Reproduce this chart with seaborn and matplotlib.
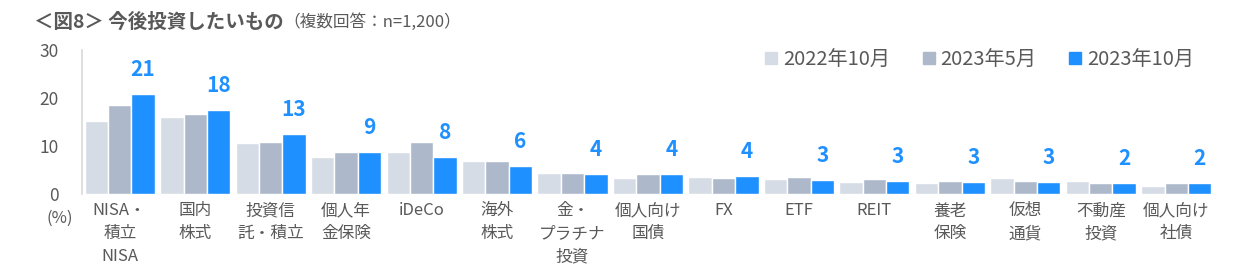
import matplotlib
matplotlib.use("Agg")
import matplotlib.pyplot as plt
from matplotlib.lines import Line2D
import seaborn as sns
import pandas as pd

categories = ["NISA・\n積立\nNISA", "国内\n株式", "投資信\n託・積立", "個人年\n金保険", "iDeCo",
              "海外\n株式", "金・\nプラチナ\n投資", "個人向け\n国債", "FX", "ETF", "REIT",
              "養老\n保険", "仮想\n通貨", "不動産\n投資", "個人向け\n社債"]
series = ["2022年10月", "2023年5月", "2023年10月"]
v2022_10 = [15.2, 16.0, 10.6, 7.7, 8.7, 6.9, 4.4, 3.3, 3.5, 3.1, 2.5, 2.3, 3.3, 2.7, 1.7]
v2023_05 = [18.5, 16.7, 10.8, 8.7, 10.8, 6.9, 4.4, 4.2, 3.3, 3.5, 3.1, 2.7, 2.7, 2.3, 2.3]
v2023_10 = [20.8, 17.5, 12.6, 8.7, 7.7, 5.8, 4.2, 4.2, 3.7, 2.9, 2.7, 2.6, 2.6, 2.3, 2.3]
labels_2023_10 = ["21", "18", "13", "9", "8", "6", "4", "4", "4", "3", "3", "3", "3", "2", "2"]

colors = {"2022年10月": "#D6DCE5", "2023年5月": "#ADB9CA", "2023年10月": "#1E90FF"}
grey = "#595959"

rows = []
for name, vals in zip(series, [v2022_10, v2023_05, v2023_10]):
    for c, v in zip(categories, vals):
        rows.append({"cat": c, "series": name, "value": v})
df = pd.DataFrame(rows)

sns.set_style("white")
plt.rcParams['font.family'] = ['Noto Sans CJK JP', 'DejaVu Sans']

fig = plt.figure(figsize=(12.35, 2.78), dpi=100)
ax = fig.add_axes([82 / 1235, 1 - 194 / 278, (1214 - 82) / 1235, 144 / 278])

sns.barplot(data=df, x="cat", y="value", hue="series", palette=colors,
            hue_order=series, order=categories, width=0.93, gap=0,
            saturation=1, ax=ax, legend=False)

ax.set_xlim(-0.5, 14.5)
ax.set_ylim(0, 30)
ax.set_yticks([0, 10, 20, 30])
ax.set_xlabel("")
ax.set_ylabel("")
for s in ["top", "right", "bottom"]:
    ax.spines[s].set_visible(False)
ax.spines["left"].set_color("#D9D9D9")
ax.spines["left"].set_linewidth(1.2)
ax.tick_params(axis="y", direction="in", length=5, width=1.2, color="#D9D9D9",
               pad=17, labelsize=12.5, labelcolor=grey)
ax.tick_params(axis="x", length=0, pad=6, labelsize=12, labelcolor=grey)
for t in ax.get_xticklabels():
    t.set_linespacing(1.45)
    t.set_verticalalignment("top")

ax.bar_label(ax.containers[2], labels=labels_2023_10, padding=10,
             color="#1E90FF", fontsize=15, fontweight="bold")

fig.text(60 / 1235, 1 - 218 / 278, "(%)", ha="center", va="center",
         fontsize=12, color=grey)

fig.text(34 / 1235, 1 - 22 / 278, "＜図8＞ 今後投資したいもの", ha="left", va="center",
         fontsize=14, fontweight="bold", color=grey)
fig.text(283 / 1235, 1 - 22 / 278, "（複数回答：n=1,200）", ha="left", va="center",
         fontsize=12, color=grey)

handles = [Line2D([], [], marker="s", linestyle="", markersize=9,
                  markerfacecolor=colors[s], markeredgecolor=colors[s]) for s in series]
fig.legend(handles, series, loc="center right", bbox_to_anchor=(1202 / 1235, 1 - 60 / 278),
           ncol=3, frameon=False, fontsize=14.5, labelcolor=grey, handlelength=0.6,
           handletextpad=0.3, columnspacing=1.6, borderaxespad=0)

fig.savefig("out.png", dpi=100)
